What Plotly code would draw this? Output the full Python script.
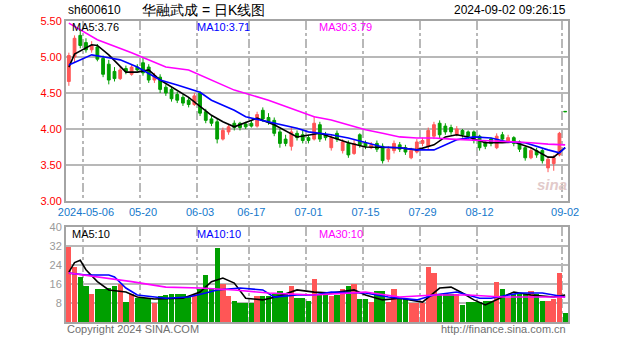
import plotly.graph_objects as go
import pandas as pd

# ---------------- data ----------------
holidays = ["2024-05-01", "2024-05-02", "2024-05-03", "2024-06-10"]
dates = [d.strftime("%Y-%m-%d") for d in pd.bdate_range("2024-04-26", "2024-09-02")
         if d.strftime("%Y-%m-%d") not in holidays]

opens = [4.66, 5.00, 5.30, 5.20, 5.10, 5.14, 4.98, 4.90, 4.80, 4.70,
         4.84, 4.76, 4.86, 4.92, 4.86, 4.68, 4.72, 4.58, 4.55, 4.48,
         4.44, 4.40, 4.34, 4.50, 4.24, 4.14, 4.10, 3.86, 3.96, 4.08,
         4.08, 4.07, 4.08, 4.04, 4.26, 4.16, 4.12, 3.96, 3.86, 3.76,
         3.94, 3.92, 3.88, 3.86, 4.06, 3.92, 3.74, 3.94, 3.70, 3.80,
         3.66, 3.92, 3.80, 3.74, 3.80, 3.76, 3.58, 3.70, 3.78, 3.74,
         3.60, 3.68, 3.80, 3.76, 3.90, 4.08, 4.04, 4.02, 3.92, 3.98,
         3.96, 3.96, 3.90, 3.82, 3.86, 3.74, 3.92, 3.82, 3.88, 3.82,
         3.74, 3.60, 3.70, 3.70, 3.46, 3.52, 3.64, 4.245]
highs = [5.06, 5.30, 5.38, 5.26, 5.22, 5.18, 5.02, 4.96, 4.86, 4.86,
         4.88, 4.90, 4.90, 5.00, 4.90, 4.78, 4.76, 4.62, 4.58, 4.52,
         4.48, 4.44, 4.50, 4.52, 4.28, 4.18, 4.14, 4.02, 4.06, 4.12,
         4.10, 4.10, 4.12, 4.24, 4.30, 4.22, 4.16, 4.00, 3.92, 4.03,
         3.98, 3.98, 3.92, 4.18, 4.10, 3.96, 3.92, 3.98, 3.86, 3.84,
         3.86, 3.94, 3.84, 3.82, 3.84, 3.80, 3.76, 3.84, 3.82, 3.78,
         3.74, 3.86, 3.88, 4.02, 4.10, 4.12, 4.08, 4.06, 4.04, 4.00,
         3.98, 3.98, 3.92, 3.84, 3.88, 3.94, 3.96, 3.92, 3.90, 3.84,
         3.76, 3.74, 3.74, 3.72, 3.62, 3.64, 3.96, 4.245]
lows = [4.60, 4.92, 5.12, 5.06, 5.06, 4.94, 4.72, 4.62, 4.66, 4.68,
        4.76, 4.74, 4.80, 4.74, 4.64, 4.64, 4.50, 4.46, 4.38, 4.36,
        4.32, 4.30, 4.32, 4.18, 4.08, 4.04, 3.80, 3.84, 3.92, 3.98,
        3.98, 4.00, 4.02, 4.02, 4.10, 4.06, 3.90, 3.74, 3.76, 3.70,
        3.84, 3.80, 3.80, 3.84, 3.82, 3.84, 3.70, 3.82, 3.66, 3.60,
        3.64, 3.74, 3.72, 3.72, 3.68, 3.52, 3.54, 3.66, 3.68, 3.64,
        3.58, 3.66, 3.76, 3.72, 3.86, 3.86, 3.92, 3.92, 3.90, 3.88,
        3.86, 3.80, 3.70, 3.72, 3.76, 3.72, 3.82, 3.80, 3.76, 3.68,
        3.56, 3.58, 3.60, 3.52, 3.40, 3.42, 3.62, 4.24]
closes = [5.02, 5.26, 5.16, 5.10, 5.16, 4.97, 4.76, 4.68, 4.70, 4.82,
          4.80, 4.86, 4.82, 4.78, 4.68, 4.74, 4.55, 4.50, 4.42, 4.40,
          4.36, 4.34, 4.46, 4.22, 4.12, 4.08, 3.86, 3.98, 4.03, 4.02,
          4.02, 4.03, 4.04, 4.20, 4.14, 4.10, 3.94, 3.80, 3.80, 3.96,
          3.88, 3.84, 3.84, 4.08, 3.86, 3.88, 3.88, 3.86, 3.82, 3.64,
          3.80, 3.78, 3.76, 3.78, 3.72, 3.56, 3.72, 3.80, 3.72, 3.68,
          3.70, 3.82, 3.84, 3.98, 4.06, 3.92, 3.96, 3.96, 4.00, 3.92,
          3.90, 3.84, 3.74, 3.76, 3.80, 3.90, 3.86, 3.88, 3.80, 3.72,
          3.60, 3.70, 3.64, 3.56, 3.58, 3.60, 3.94, 4.24]
volumes = [31.6, 23, 19, 15, 12, 14, 14, 14.5, 15, 16,
           8.5, 12, 10, 10, 10, 8, 11, 11.5, 12, 12,
           12, 11, 12, 14, 20, 14, 31, 16, 11, 9,
           8, 8, 8, 11, 11, 11, 12, 13, 12, 15,
           10, 10, 9, 18, 11.5, 11.5, 11, 11.5, 14, 15,
           16, 9.6, 9.6, 8.4, 13, 13, 8.4, 14, 9.6, 9.6,
           8, 8, 8, 23, 20.5, 12, 12, 12, 12, 7,
           8.4, 8.4, 8.4, 9, 9, 17, 14, 10, 12, 12,
           12, 12.9, 12, 9, 9, 9.5, 20.6, 3.6]

# moving-average lines (candle index, value)
ma5_idx = [0, 1, 4, 5, 7, 10, 12, 14, 16, 21, 25, 27, 29, 30, 33, 36, 40, 44, 46, 49,
           52, 58, 61, 64, 66, 68, 70, 73, 76, 78, 81, 84, 85, 87]
ma5_val = [4.86, 5.04, 5.17, 5.16, 5.03, 4.79, 4.79, 4.82, 4.68, 4.44, 4.19, 4.10, 4.03, 4.06,
           4.15, 4.06, 3.89, 3.94, 3.89, 3.81, 3.75, 3.74, 3.71, 3.78, 3.89, 3.92, 3.89, 3.81,
           3.81, 3.82, 3.74, 3.61, 3.61, 3.74]
ma10_idx = [0, 4, 7, 9, 12, 16, 19, 23, 25, 29, 31, 35, 37, 40, 42, 46, 49, 52, 55, 58,
            61, 64, 66, 68, 71, 74, 77, 80, 84, 86, 87]
ma10_val = [4.89, 5.03, 4.99, 4.96, 4.86, 4.68, 4.61, 4.51, 4.40, 4.26, 4.17, 4.10, 4.06, 4.01,
            3.96, 3.92, 3.875, 3.81, 3.75, 3.74, 3.71, 3.71, 3.78, 3.85, 3.89, 3.875, 3.82,
            3.81, 3.71, 3.67, 3.74]
ma30_idx = [0, 5, 11, 17, 21, 23, 29, 35, 40, 43, 46, 49, 52, 55, 58, 61, 64, 67, 70, 73,
            76, 79, 81, 84, 87]
ma30_val = [5.47, 5.24, 5.06, 4.86, 4.82, 4.75, 4.54, 4.40, 4.25, 4.17, 4.125, 4.06, 3.99, 3.94,
            3.89, 3.875, 3.875, 3.86, 3.85, 3.83, 3.82, 3.81, 3.81, 3.79, 3.78]

vma5_idx = [0, 1, 2, 3, 5, 7, 10, 12, 15, 20, 23, 25, 27, 29, 31, 34, 37, 40, 43, 46,
            50, 52, 55, 58, 62, 65, 67, 69, 71, 73, 76, 78, 81, 85, 87]
vma5_val = [21, 25, 26, 22, 17, 13.5, 12.6, 10.5, 9.7, 10, 12.6, 17, 18.5, 16.4, 10, 9.3, 11,
            13.5, 12.6, 12.2, 13.5, 11.4, 9.3, 10, 8.4, 14.3, 14.7, 12.2, 9.3, 7.2, 10.5, 12.6,
            11.4, 10.5, 11.4]
vma10_idx = [0, 3, 7, 8, 10, 12, 17, 21, 24, 26, 30, 34, 36, 40, 43, 46, 52, 56, 61, 64,
             68, 72, 74, 79, 83, 87]
vma10_val = [20.6, 19.8, 19.8, 19, 14.3, 11.4, 10, 10.5, 12.2, 13.5, 14.3, 13.5, 10.5, 11.4,
             11.4, 12.6, 12.2, 10.5, 9.3, 11.4, 12.6, 10, 10, 12.2, 12.2, 10.5]
vma30_idx = [0, 5, 11, 17, 23, 29, 35, 43, 52, 58, 64, 70, 76, 87]
vma30_val = [20.6, 19, 17, 14.7, 14.3, 13.5, 12.2, 11.4, 12.6, 10.5, 11.4, 11.4, 10.5, 10.5]

tick_dates = ["2024-05-06", "2024-05-20", "2024-06-03", "2024-06-17", "2024-07-01",
              "2024-07-15", "2024-07-29", "2024-08-12", "2024-09-02"]
tick_labels = ["2024-05-06", "05-20", "06-03", "06-17", "07-01", "07-15", "07-29", "08-12", "09-02"]
price_ticks = [3.0, 3.5, 4.0, 4.5, 5.0, 5.5]
vol_ticks = [8, 16, 24, 32, 40]

# ---------------- styles ----------------
RED = "#FF5656"
GREEN = "#009F00"
GRID = "#B8B8B8"
BORDER = "#A4A4A4"
FONT = "Liberation Sans, Arial, sans-serif"

W, H = 627, 342
L, R, T, B = 66, 568, 21, 322
MAIN_BOTTOM, VOL_TOP = 201, 227

def px(x):
    return (x - L) / (R - L)

def py(y):
    return (B - y) / (B - T)

fig = go.Figure()

fig.add_trace(go.Candlestick(
    x=dates, open=opens, high=highs, low=lows, close=closes,
    increasing=dict(line=dict(color=RED, width=1), fillcolor=RED),
    decreasing=dict(line=dict(color=GREEN, width=1), fillcolor=GREEN),
    whiskerwidth=0, xaxis="x", yaxis="y", hoverinfo="x+y"))

for idx, val, col in [(ma5_idx, ma5_val, "#000000"), (ma10_idx, ma10_val, "#0000FF"),
                      (ma30_idx, ma30_val, "#FF00FF")]:
    fig.add_trace(go.Scatter(x=[dates[i] for i in idx], y=val, mode="lines",
                             line=dict(color=col, width=1.6), xaxis="x", yaxis="y"))

vol_colors = [RED if c > o else GREEN for o, c in zip(opens, closes)]
fig.add_trace(go.Bar(x=dates, y=volumes, marker=dict(color=vol_colors, line=dict(width=0)),
                     width=0.92, xaxis="x2", yaxis="y2"))

for idx, val, col in [(vma5_idx, vma5_val, "#000000"), (vma10_idx, vma10_val, "#0000FF"),
                      (vma30_idx, vma30_val, "#FF00FF")]:
    fig.add_trace(go.Scatter(x=[dates[i] for i in idx], y=val, mode="lines",
                             line=dict(color=col, width=1.6), xaxis="x2", yaxis="y2"))

xcommon = dict(type="category", categoryorder="array", categoryarray=dates,
               range=[-0.5, len(dates) - 0.5], tickson="boundaries",
               tickmode="array", tickvals=tick_dates, showgrid=True, gridcolor=GRID,
               griddash="dashdot", gridwidth=2, showline=True, linecolor=BORDER,
               linewidth=2, mirror=True, ticks="", zeroline=False, fixedrange=True)

fig.update_layout(
    width=W, height=H,
    margin=dict(l=L, r=W - R, t=T, b=H - B),
    paper_bgcolor="white", plot_bgcolor="white",
    showlegend=False, bargap=0,
    font=dict(family=FONT, size=11, color="#000000"),
    xaxis=dict(domain=[0, 1], anchor="y", ticktext=tick_labels, tickangle=0,
               ticklabeloverflow="allow",
               tickfont=dict(color="#1478CC", size=11, family=FONT),
               rangeslider=dict(visible=False), **xcommon),
    yaxis=dict(domain=[py(MAIN_BOTTOM), 1], anchor="x", range=[3.0, 5.5],
               tickmode="array", tickvals=price_ticks,
               ticktext=[f"{v:.2f}" for v in price_ticks],
               tickfont=dict(color="#FF0000", size=11, family=FONT),
               showgrid=True, gridcolor=GRID, gridwidth=2, showline=True,
               linecolor=BORDER, linewidth=2, mirror=True, ticks="", zeroline=False),
    xaxis2=dict(domain=[0, 1], anchor="y2", showticklabels=False, **xcommon),
    yaxis2=dict(domain=[0, py(VOL_TOP)], anchor="x2", range=[0, 40],
                tickmode="array", tickvals=vol_ticks, ticktext=[str(v) for v in vol_ticks],
                tickfont=dict(color="#9A9A9A", size=11, family=FONT),
                showgrid=True, gridcolor=GRID, gridwidth=2, showline=True,
                linecolor=BORDER, linewidth=2, mirror=True, ticks="", zeroline=False),
)

def note(text, x, y, color="#000000", size=11, xanchor="left", **kw):
    fig.add_annotation(text=text, x=px(x), y=py(y), xref="paper", yref="paper",
                       xanchor=xanchor, yanchor="middle", showarrow=False,
                       font=dict(color=color, size=size, family=FONT), **kw)

note("sh600610", 66, 10, size=12)
note("华融武成 = 日K线图", 140, 10, size=14)
note("2024-09-02 09:26:15", 568, 10, size=12, xanchor="right")

note("MA5:3.76", 70, 27)
note("MA10:3.71", 195, 27, color="#0000FF")
note("MA30:3.79", 317, 27, color="#FF00FF")

note("MA5:10", 70, 234)
note("MA10:10", 195, 234, color="#0000FF")
note("MA30:10", 317, 234, color="#FF00FF")

note("<i><b>sina</b></i>", 552, 184, color="#E2CACA", size=15, xanchor="center")
note("Copyright 2024 SINA.COM", 65, 329, color="#707070")
note("http://finance.sina.com.cn", 568, 329, color="#707070", xanchor="right")

fig.write_html("out.html")
